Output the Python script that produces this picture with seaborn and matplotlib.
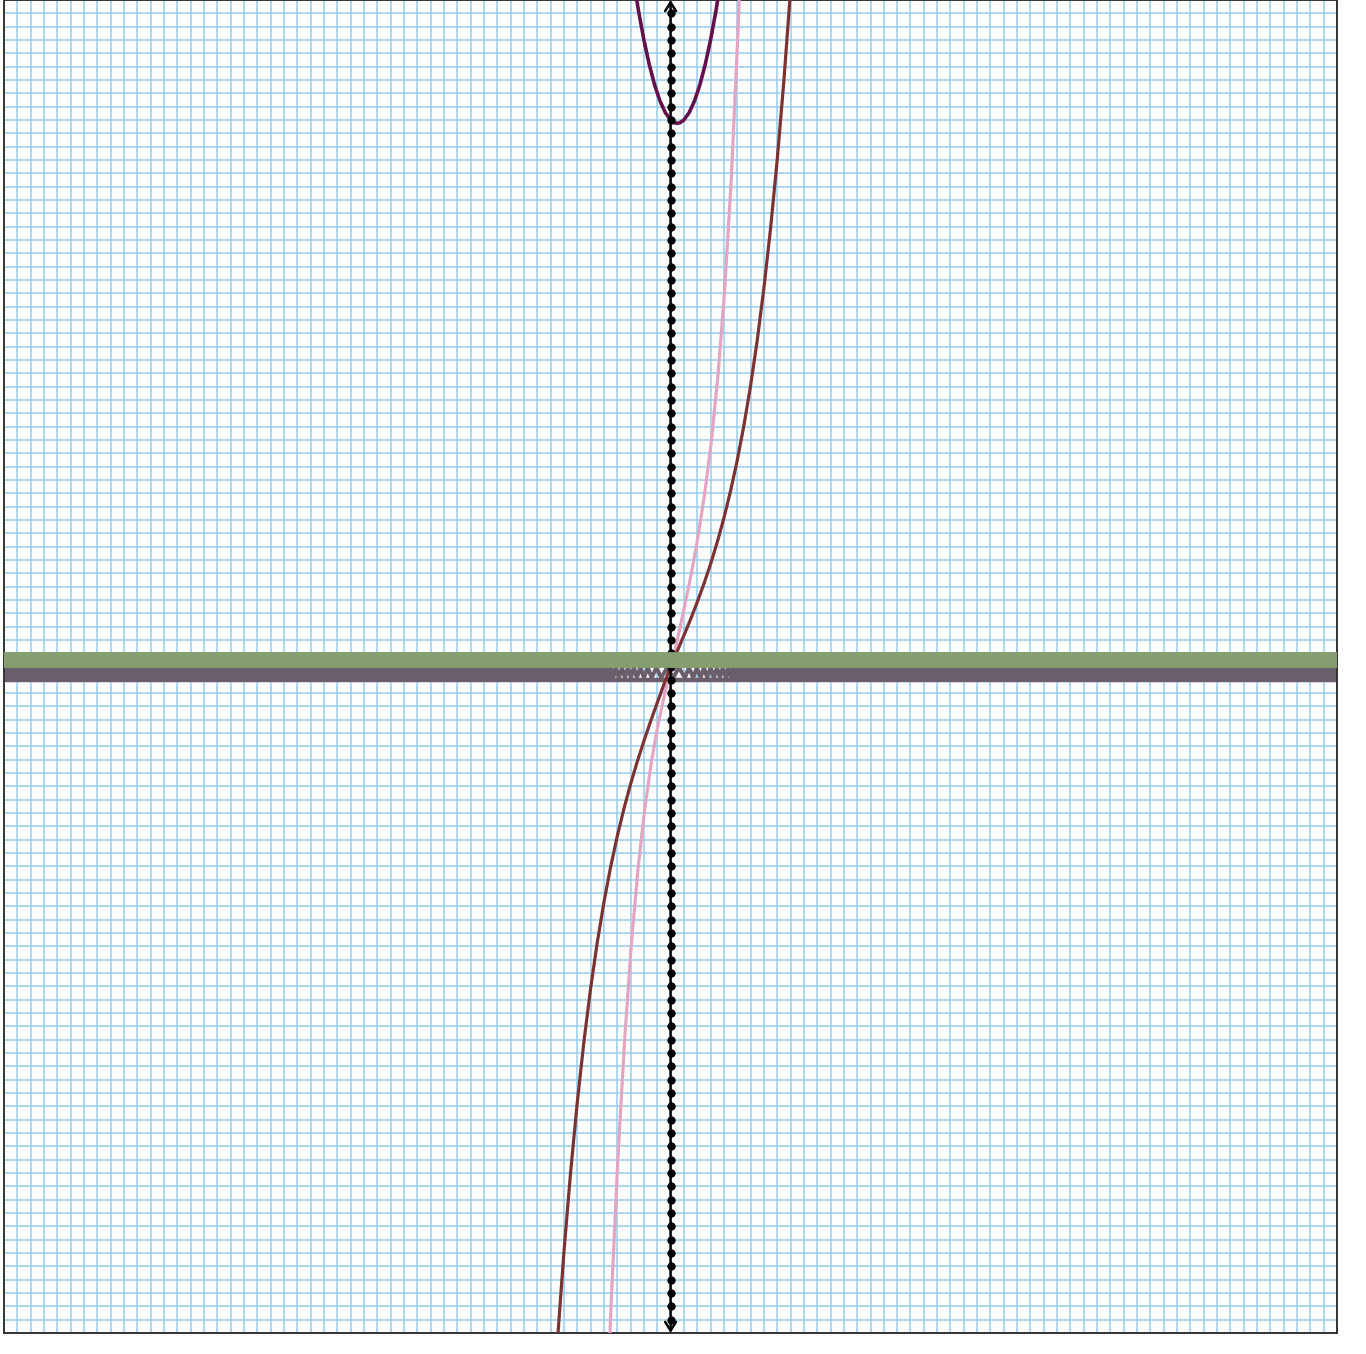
import matplotlib
matplotlib.use("Agg")
import matplotlib.pyplot as plt
import seaborn as sns

sns.set_theme(style="white")

# view window (graph-paper units) and grid
x_lim = (-50, 50)
y_lim = (-50, 50)
grid_ticks = list(range(-50, 51))
axis_dots = list(range(-49, 50))

# purple parabola
parab_x = [-2.8, -2.4, -2.0, -1.6, -1.2, -0.8, -0.4, 0.0, 0.3, 0.5, 0.7, 1.0, 1.4, 1.8, 2.2, 2.6, 3.0, 3.4, 3.8]
parab_y = [51.64, 49.16, 47.0, 45.16, 43.64, 42.44, 41.56, 41.0, 40.79, 40.75, 40.79, 41.0, 41.56, 42.44, 43.64,
           45.16, 47.0, 49.16, 51.64]

# brown curve
brown_x = [-8.8, -8.5, -8.0, -7.5, -7.0, -6.5, -6.0, -5.5, -5.0, -4.5, -4.0, -3.5, -3.0, -2.5, -2.0, -1.5, -1.0,
           -0.5, 0.0, 0.5, 1.0, 1.5, 2.0, 2.5, 3.0, 3.5, 4.0, 4.5, 5.0, 5.5, 6.0, 6.5, 7.0, 7.5, 8.0, 8.5, 9.0, 9.3]
brown_y = [-55.31, -50.76, -43.93, -37.93, -32.70, -28.14, -24.16, -20.70, -17.69, -15.05, -12.73, -10.67, -8.82,
           -7.14, -5.59, -4.12, -2.72, -1.35, 0.0, 1.15, 2.33, 3.54, 4.83, 6.20, 7.68, 9.32, 11.13, 13.17, 15.46,
           18.07, 21.05, 24.46, 28.37, 32.85, 38.01, 43.93, 50.71, 55.25]

# pink curve
pink_x = [-4.75, -4.45, -3.95, -3.45, -2.95, -2.45, -1.95, -1.45, -0.95, -0.45, 0.05, 0.55, 1.05, 1.55, 2.05,
          2.55, 3.05, 3.55, 4.05, 4.55, 5.05, 5.25]
pink_y = [-55.07, -47.61, -36.88, -28.07, -20.94, -15.25, -10.76, -7.23, -4.42, -2.09, 0.0, 2.21, 4.50, 6.95,
          9.70, 12.91, 16.82, 21.76, 28.13, 36.47, 47.43, 52.73]

# green band (just above the x axis)
green_x = [-50, 50]
green_y = [0.52, 0.52]

# gray band (just below the x axis): dense part, solid floor, and the slower wiggle near 0
gray_left_x = [-50, -4.6]
gray_right_x = [5.15, 50]
gray_dense_y = [-0.58, -0.58]
gray_floor_x = [-50, 50]
gray_floor_y = [-0.98, -0.98]
wave_x = [-4.6, -4.33, -4.1, -3.88, -3.65, -3.43, -3.2, -2.98, -2.75, -2.53, -2.27, -2.0, -1.71, -1.42,
          -1.06, -0.7, -0.25, 0.2, 0.63, 1.07, 1.38, 1.7, 1.97, 2.25, 2.5, 2.75, 3.0, 3.25, 3.48, 3.7,
          3.92, 4.15, 4.33, 4.52, 4.7, 4.9, 5.15]
wave_y = [-0.07, -0.85, -0.07, -0.85, -0.07, -0.85, -0.07, -0.85, -0.07, -0.85, -0.07, -0.85, -0.07, -0.85,
          -0.07, -0.85, -0.07, -0.85, -0.07, -0.85, -0.07, -0.85, -0.07, -0.85, -0.07, -0.85, -0.07, -0.85,
          -0.07, -0.85, -0.07, -0.85, -0.07, -0.85, -0.07, -0.85, -0.07]

fig = plt.figure(figsize=(13.66, 13.54), dpi=100)
ax = fig.add_axes([0.003, 0.0155, 0.9758, 0.9845])

gray = "#6a5e6a"
kw = dict(ax=ax, sort=False, estimator=None, legend=False)
sns.lineplot(x=gray_left_x, y=gray_dense_y, color=gray, lw=10.2, zorder=2, **kw)
sns.lineplot(x=gray_right_x, y=gray_dense_y, color=gray, lw=10.2, zorder=2, **kw)
sns.lineplot(x=gray_floor_x, y=gray_floor_y, color=gray, lw=3.2, zorder=2, **kw)
sns.lineplot(x=wave_x, y=wave_y, color=gray, lw=2.9, zorder=2, **kw)

sns.lineplot(x=pink_x, y=pink_y, color="#e2a6c4", lw=2.3, zorder=3, **kw)
sns.lineplot(x=brown_x, y=brown_y, color="#7a3232", lw=2.3, zorder=3, **kw)
sns.lineplot(x=parab_x, y=parab_y, color="#64114b", lw=2.6, zorder=3, **kw)

# y axis: line with dots and open arrow heads
ax.annotate("", xy=(0, y_lim[1]), xytext=(0, y_lim[0]), xycoords="data",
            arrowprops=dict(arrowstyle="<->,head_length=0.45,head_width=0.28", color="black", lw=1.8,
                            mutation_scale=14, shrinkA=0, shrinkB=0), zorder=4)
sns.scatterplot(x=[0] * len(axis_dots), y=axis_dots, ax=ax, color="black", s=36,
                linewidth=0, zorder=5, legend=False)

sns.lineplot(x=green_x, y=green_y, color="#849e70", lw=11.4, zorder=6, **kw)

ax.set_xlim(*x_lim)
ax.set_ylim(*y_lim)
ax.set_xticks(grid_ticks)
ax.set_yticks(grid_ticks)
ax.set_xticklabels([])
ax.set_yticklabels([])
ax.tick_params(length=0)
ax.set_xlabel("")
ax.set_ylabel("")
ax.grid(True, color="#97cdeb", lw=1.1)
ax.set_axisbelow(True)
for sp in ax.spines.values():
    sp.set_color("#333333")
    sp.set_linewidth(1.4)

fig.savefig("out.png", dpi=100)
plt.close(fig)
